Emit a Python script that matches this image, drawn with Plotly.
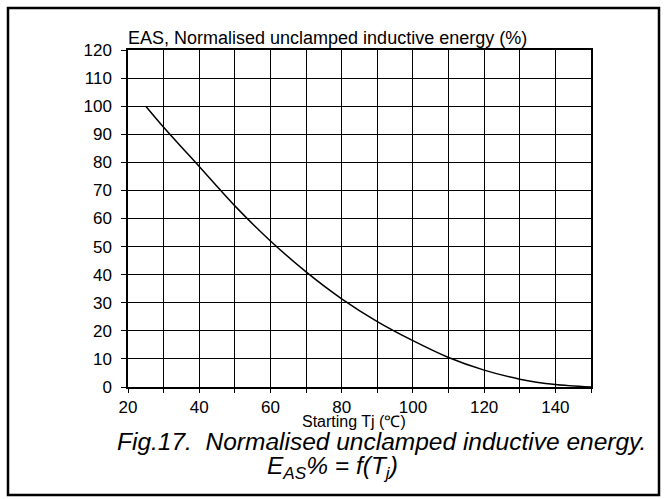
import plotly.graph_objects as go

# Data
tj = [25, 30, 40, 50, 60, 70, 80, 90, 100, 110, 120, 130, 140, 150]
eas = [100, 92.5, 78.5, 64.5, 52, 41, 31.4, 23.3, 16.5, 10.5, 6, 2.8, 0.9, 0]
x_tick_vals = [20, 40, 60, 80, 100, 120, 140]
y_tick_vals = list(range(0, 121, 10))

W, H = 665, 499
L, R, T, B = 128, 591, 50, 387  # plot area pixel bounds

fig = go.Figure()
fig.add_trace(go.Scatter(x=tj, y=eas, mode="lines",
                         line=dict(color="black", width=1.5, shape="spline", smoothing=0.8),
                         hoverinfo="skip"))

font = "Liberation Sans, Arial, sans-serif"
fig.update_layout(
    width=W, height=H,
    margin=dict(l=L, r=W - R, t=T, b=H - B, pad=0),
    paper_bgcolor="white", plot_bgcolor="white",
    showlegend=False,
    font=dict(family=font, color="black", size=17),
)
fig.update_xaxes(range=[20, 150], tickvals=x_tick_vals, ticks="outside", ticklen=4,
                 tickwidth=1, tickcolor="black",
                 showgrid=True, gridcolor="black", gridwidth=1,
                 minor=dict(dtick=10, tick0=20, ticks="outside", ticklen=4, tickcolor="black",
                            showgrid=True, gridcolor="black", gridwidth=1),
                 showline=True, linecolor="black", linewidth=1.5, mirror=True,
                 zeroline=False, tickfont=dict(size=17), ticklabelstandoff=0)
fig.update_yaxes(range=[0, 120], tickvals=y_tick_vals, ticks="outside", ticklen=5,
                 tickwidth=1, tickcolor="black",
                 showgrid=True, gridcolor="black", gridwidth=1,
                 showline=True, linecolor="black", linewidth=1.5, mirror=True,
                 zeroline=False, tickfont=dict(size=17), ticklabelstandoff=6)

pw, ph = R - L, B - T
def px(x):
    return (x - L) / pw
def py(y):
    return (B - y) / ph

# Outer border
fig.add_shape(type="rect", xref="paper", yref="paper",
              x0=px(8), x1=px(659), y0=py(495), y1=py(8),
              line=dict(color="black", width=2.5), layer="above")

# Y-axis title at top
fig.add_annotation(text="EAS, Normalised unclamped inductive energy (%)",
                   xref="paper", yref="paper", x=px(126), y=py(38),
                   xanchor="left", yanchor="middle", showarrow=False,
                   font=dict(size=18))
# X-axis title
fig.add_annotation(text="Starting Tj (\u2103)",
                   xref="paper", yref="paper", x=px(354), y=py(421),
                   xanchor="center", yanchor="middle", showarrow=False,
                   font=dict(size=16))
# Caption
fig.add_annotation(text="<i>Fig.17.  Normalised unclamped inductive energy.</i>",
                   xref="paper", yref="paper", x=px(381), y=py(441),
                   xanchor="center", yanchor="middle", showarrow=False,
                   font=dict(size=24.5))
fig.add_annotation(text="<i>E<sub>AS</sub>% = f(T<sub>j</sub>)</i>",
                   xref="paper", yref="paper", x=px(332), y=py(467),
                   xanchor="center", yanchor="middle", showarrow=False,
                   font=dict(size=24.5))

fig.write_html("out.html", config={"displayModeBar": False},
               post_script="document.body.style.margin='0';")
